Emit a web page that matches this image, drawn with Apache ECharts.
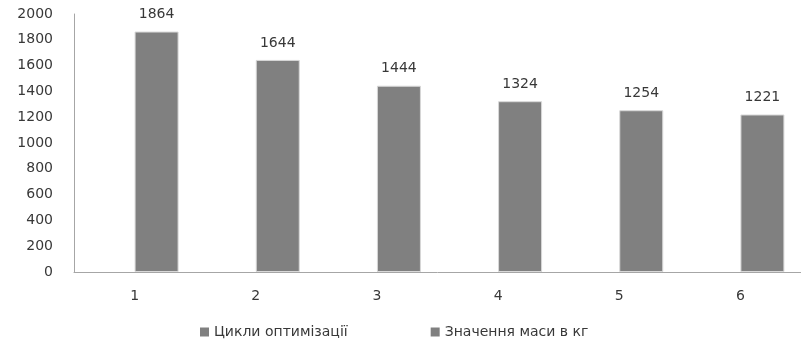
<!DOCTYPE html>
<html>
<head>
<meta charset="utf-8">
<script src="https://cdn.jsdelivr.net/npm/echarts@6/dist/echarts.min.js"></script>
<style>
  html, body { margin: 0; padding: 0; background: #fff; }
  #chart { width: 801px; height: 340px; }
</style>
</head>
<body>
<div id="chart"></div>
<script>
// Optimisation cycles and the resulting mass (kg)
const cycles = ['1', '2', '3', '4', '5', '6'];
const massKg = [1864, 1644, 1444, 1324, 1254, 1221];
const cycleSeriesValues = []; // the cycle series carries no visible bars
const yTicks = { min: 0, max: 2000, step: 200 };

const seriesNames = ['Цикли оптимізації', 'Значення маси в кг'];
const FONT = "'DejaVu Sans', Verdana, sans-serif";
const TEXT = '#383838';
const BAR = '#808080';
const AXIS = '#a6a6a6';

const chart = echarts.init(document.getElementById('chart'), null, { renderer: 'canvas' });
chart.setOption({
  animation: false,
  backgroundColor: '#fff',
  textStyle: { fontFamily: FONT },
  grid: { left: 74, top: 14, width: 732, height: 258, containLabel: false },
  legend: {
    left: 195,
    top: 320,
    itemWidth: 9,
    itemHeight: 9,
    itemGap: 83,
    icon: 'rect',
    itemStyle: { borderWidth: 0 },
    textStyle: { fontFamily: FONT, fontSize: 14, color: TEXT },
    data: seriesNames
  },
  xAxis: {
    type: 'category',
    data: cycles,
    axisLine: { lineStyle: { color: AXIS, width: 1 } },
    axisTick: { show: false },
    axisLabel: { fontFamily: FONT, fontSize: 14, color: TEXT, margin: 17 }
  },
  yAxis: {
    type: 'value',
    min: yTicks.min,
    max: yTicks.max,
    interval: yTicks.step,
    axisLine: { show: true, lineStyle: { color: AXIS, width: 1 } },
    axisTick: { show: false },
    splitLine: { show: false },
    axisLabel: {
      fontFamily: FONT, fontSize: 14, color: TEXT, margin: 21,
      formatter: v => String(v)
    }
  },
  series: [
    {
      name: seriesNames[0],
      type: 'bar',
      barWidth: 44,
      barGap: '0%',
      itemStyle: { color: BAR },
      data: cycleSeriesValues
    },
    {
      name: seriesNames[1],
      type: 'bar',
      barWidth: 44,
      barGap: '0%',
      itemStyle: { color: BAR, borderColor: '#d8d8d8', borderWidth: 1 },
      label: {
        show: true,
        position: 'top',
        distance: 10,
        fontFamily: FONT,
        fontSize: 14,
        color: TEXT
      },
      data: massKg
    }
  ]
});
</script>
</body>
</html>
